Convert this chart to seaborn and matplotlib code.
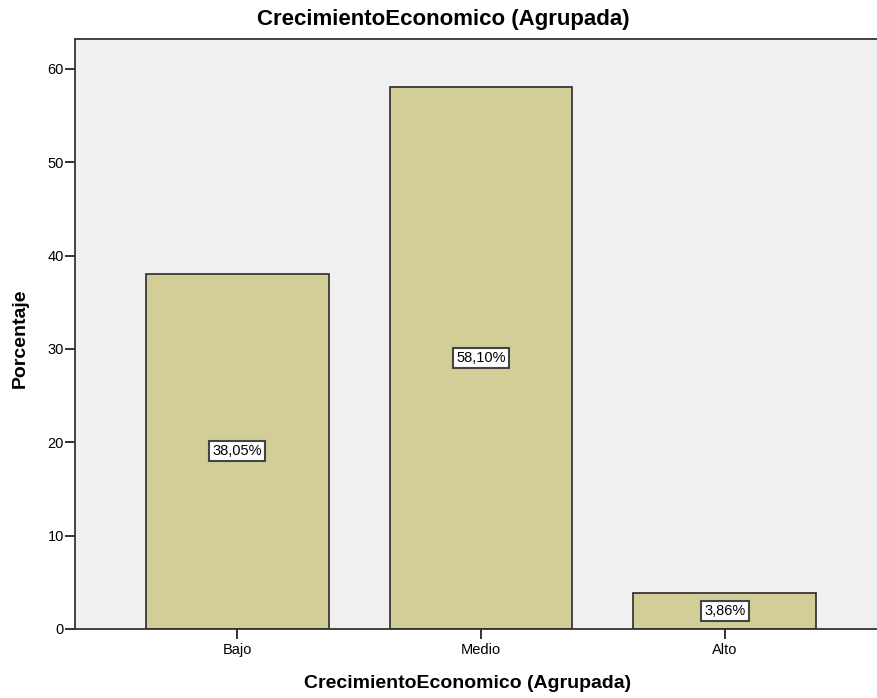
import matplotlib
matplotlib.use("Agg")
import matplotlib.pyplot as plt
import seaborn as sns
import pandas as pd

categories = ["Bajo", "Medio", "Alto"]
percentages = [38.05, 58.10, 3.86]
y_ticks = [0, 10, 20, 30, 40, 50, 60]

sns.set_style("white")
plt.rcParams['font.family'] = ['Liberation Sans', 'DejaVu Sans']
plt.rcParams['text.color'] = 'black'
plt.rcParams['axes.labelcolor'] = 'black'
plt.rcParams['xtick.color'] = 'black'
plt.rcParams['ytick.color'] = 'black'

df = pd.DataFrame({"cat": categories, "pct": percentages})

fig = plt.figure(figsize=(8.77, 6.98), dpi=100)
ax = fig.add_axes([75/877, 69/698, 1 - 75/877, (629-39)/698])
ax.set_facecolor("#F0F0F0")

sns.barplot(data=df, x="cat", y="pct", order=categories, color="#D3CE97",
            saturation=1, width=0.75, edgecolor="#2b2b2b", linewidth=1.2, ax=ax)

for i, v in enumerate(percentages):
    ax.text(i, v / 2, f"{v:.2f}%".replace(".", ","), ha="center", va="center",
            fontsize=10.5, color="black",
            bbox=dict(boxstyle="square,pad=0.2", facecolor="white",
                      edgecolor="#444444", linewidth=1.5))

ax.set_xlim(-0.664, 2.623)
ax.set_ylim(0, 63.2)
ax.set_yticks(y_ticks)
ax.set_yticklabels([str(t) for t in y_ticks])
ax.tick_params(axis="x", labelsize=10.5, length=7, width=1.3, direction="out", bottom=True, color="#222222", pad=3)
ax.tick_params(axis="y", labelsize=10.5, length=7, width=1.3, direction="out", left=True, color="#222222", pad=1)

for side in ["left", "bottom", "top"]:
    ax.spines[side].set_visible(True)
    ax.spines[side].set_color("#333333")
    ax.spines[side].set_linewidth(1.3)
ax.spines["right"].set_visible(False)

ax.set_xlabel("CrecimientoEconomico (Agrupada)", fontsize=14, fontweight="bold")
ax.set_ylabel("Porcentaje", fontsize=14, fontweight="bold")
ax.xaxis.set_label_coords((468 - 75) / 802, -(684 - 629) / 590)
ax.yaxis.set_label_coords(-(75 - 20) / 802, (629 - 338) / 590)
ax.xaxis.label.set_va("center")
ax.yaxis.label.set_va("center")
fig.text(443/877, 1 - 20/698, "CrecimientoEconomico (Agrupada)", fontsize=16,
         fontweight="bold", ha="center", va="center")

fig.savefig("out.png", dpi=100)
